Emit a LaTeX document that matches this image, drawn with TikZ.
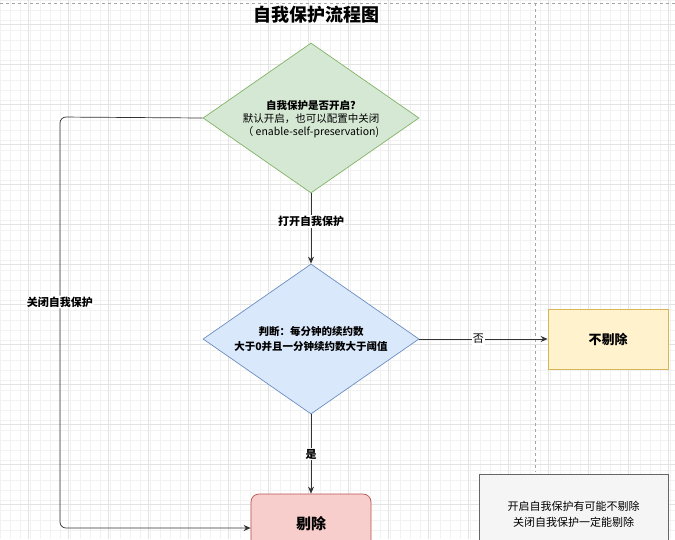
\documentclass[tikz,border=0pt]{standalone}
\usepackage{fontspec}
\setmainfont{Noto Sans CJK SC}
\usetikzlibrary{shapes.geometric,arrows.meta}
\begin{document}
\begin{tikzpicture}[x=1pt,y=-1pt,
  lbl/.style={fill=white,inner sep=1pt,font=\fontsize{11}{13}\selectfont\bfseries},
  arr/.style={draw=black!80,line width=0.9pt,-{Stealth[length=7pt,width=6pt]}},
  dia/.style={diamond,aspect=1.44,inner sep=0pt,minimum width=216pt,minimum height=150pt,line width=0.7pt,align=center},
  box/.style={minimum width=120pt,minimum height=60pt,line width=0.7pt,align=center}]
\useasboundingbox (0,0) rectangle (675,539);
\fill[white] (0,0) rectangle (675,539);
\foreach \i in {0,10,...,670} \draw[black!5,line width=0.4pt] (\i,0) -- (\i,539);
\foreach \i in {0,10,...,530} \draw[black!5,line width=0.4pt] (0,\i) -- (675,\i);
\foreach \i in {28,68,...,668} \draw[black!11,line width=0.5pt] (\i,0) -- (\i,539);
\foreach \i in {24,64,...,534} \draw[black!11,line width=0.5pt] (0,\i) -- (675,\i);
\draw[black!35,dashed,line width=0.5pt] (0,3) -- (675,3);
\draw[black!35,dashed,line width=0.5pt] (535,3) -- (535,472);
\node (title) at (316,15) {\fontsize{18}{20}\selectfont\bfseries 自我保护流程图};
\node[dia,fill={rgb,255:red,213;green,232;blue,212},draw={rgb,255:red,130;green,179;blue,102}] (d1) at (311,118) {};
\node[align=center,font=\fontsize{10.5}{13}\selectfont] (t1) at (311,119) {\textbf{自我保护是否开启?}\\默认开启，也可以配置中关闭\\（ enable-self-preservation)};
\node[dia,fill={rgb,255:red,218;green,232;blue,252},draw={rgb,255:red,108;green,142;blue,191}] (d2) at (311,339) {};
\node[align=center,font=\fontsize{10.5}{15}\selectfont\bfseries] (t2) at (311,339) {判断：每分钟的续约数\\大于0并且一分钟续约数大于阈值};
\node[box,fill={rgb,255:red,255;green,242;blue,204},draw={rgb,255:red,214;green,182;blue,86},font=\fontsize{13}{15}\selectfont\bfseries] (no) at (608,339) {不剔除};
\node[box,rounded corners=8pt,fill={rgb,255:red,248;green,206;blue,204},draw={rgb,255:red,184;green,84;blue,80},font=\fontsize{15}{17}\selectfont\bfseries] (del) at (311,524) {剔除};
\node[minimum width=189pt,minimum height=80pt,fill={rgb,255:red,245;green,245;blue,245},draw={rgb,255:red,102;green,102;blue,102},line width=0.7pt] (note) at (573.5,514) {};
\node[align=center,font=\fontsize{11}{16}\selectfont] (nt) at (573.5,514) {开启自我保护有可能不剔除\\关闭自我保护一定能剔除};
\draw[arr] (d1.south) -- node[lbl,pos=0.4]{打开自我保护} (d2.north);
\draw[arr] (d2.east) -- node[lbl,pos=0.46,font=\fontsize{11}{13}\selectfont]{否} (no.west);
\draw[arr] (d2.south) -- node[lbl,pos=0.5]{是} (del.north);
\coordinate (c1) at (60,117);
\coordinate (c2) at (60,528);
\draw[arr,line width=0.7pt,rounded corners=6pt] (d1.west) -- (c1) -- node[lbl,pos=0.45]{关闭自我保护} (c2) -- (del.west |- c2);
\end{tikzpicture}
\end{document}
